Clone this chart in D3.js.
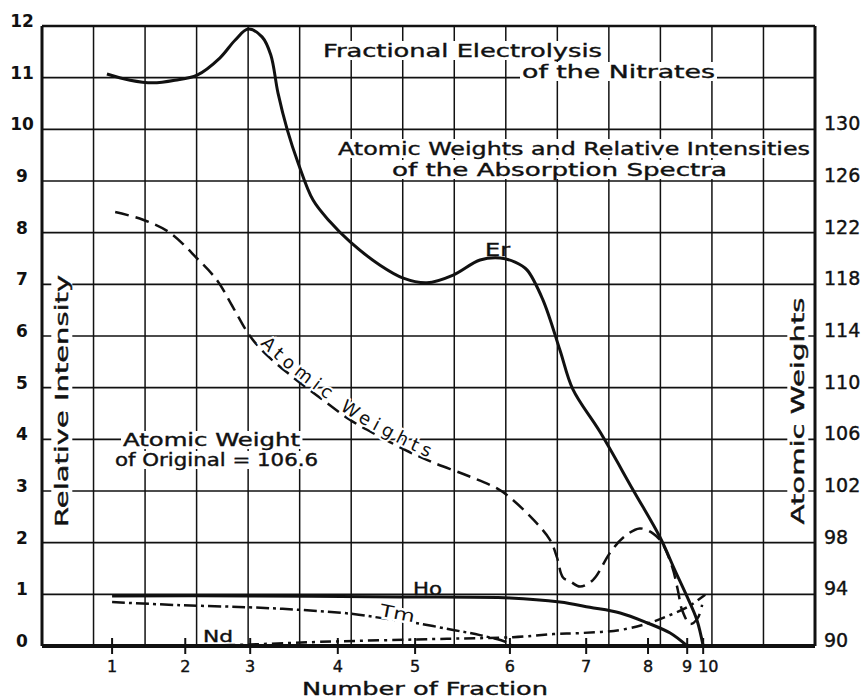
<!DOCTYPE html>
<html><head><meta charset="utf-8">
<script src="https://cdn.jsdelivr.net/npm/d3@7"></script>
<style>body{margin:0;background:#fff}</style>
</head><body>
<svg id="c" width="865" height="700"></svg>
<script>
// ---- data ----
const intensityTicks = [0,1,2,3,4,5,6,7,8,9,10,11,12];
const weightTicks = [90,94,98,102,106,110,114,118,122,126,130];
const gridColumns = [0,1,2,3,4,5,6,7,8,9,10,11,12,13,14,15];
const fractions = [1,2,3,4,5,6,7,8,9,10];
const fractionPos = [1.36,2.78,4.04,5.74,7.24,9.08,10.56,11.76,12.52,12.83];

// Er relative intensity (x in grid units)
const erX = [1.26,1.71,2.15,2.58,3.01,3.45,3.75,4.00,4.27,4.44,4.58,4.76,4.97,5.26,5.59,5.98,6.56,7.01,7.47,7.98,8.50,8.89,9.18,9.41,9.72,10.05,10.30,10.83,11.47,11.99,12.28,12.52,12.71,12.83];
const erY = [11.07,10.95,10.90,10.95,11.05,11.38,11.73,11.94,11.79,11.44,10.70,9.99,9.35,8.63,8.21,7.82,7.37,7.12,7.03,7.18,7.47,7.51,7.43,7.28,6.70,5.73,4.97,4.14,3.02,2.11,1.47,0.95,0.50,0.0];
// Atomic weights (right axis)
const awX = [1.42,1.96,2.48,3.01,3.40,3.71,4.00,4.29,4.81,5.40,5.98,6.56,7.14,7.59,8.25,8.83,9.08,9.53,9.86,9.99,10.11,10.25,10.44,10.69,11.02,11.28,11.60,11.86,12.03,12.23,12.34,12.42,12.58,12.73,12.81];
const awW = [123.6,123.0,122.0,120.0,118.3,116.2,114.2,112.8,111.0,109.2,107.5,106.2,105.0,104.2,103.2,102.2,101.5,99.8,98.2,96.9,95.3,95.0,94.6,95.1,97.2,98.4,99.1,98.7,98.0,96.1,94.3,92.8,91.7,92.2,93.2];
// Ho
const hoX = [1.36,4.04,6.95,9.08,10.05,10.63,11.22,11.74,12.19,12.52];
const hoY = [0.97,0.97,0.95,0.93,0.85,0.75,0.64,0.45,0.25,0.0];
// Tm
const tmX = [1.36,2.68,3.98,5.01,6.04,6.66,7.28,7.98,8.50,9.02,9.12];
const tmY = [0.85,0.79,0.75,0.70,0.62,0.53,0.44,0.31,0.21,0.07,0.0];
// Nd
const ndX = [3.07,4.04,5.40,7.86,9.14,9.92,10.44,11.22,11.80,12.19,12.52,12.87];
const ndY = [0,0.03,0.08,0.14,0.17,0.23,0.25,0.31,0.45,0.60,0.75,0.99];

// ---- scales ----
const FONT = "'DejaVu Sans', sans-serif";
const svg = d3.select('#c');
const x = d3.scaleLinear().domain([0,15]).range([42,815]);
const y = d3.scaleLinear().domain([0,12]).range([646,26]);
const yW = d3.scaleLinear().domain([90,130]).range([y(0), y(10)]);
const ink = '#111';

const gridG = svg.append('g');
const bgG = svg.append('g');
const curveG = svg.append('g');
const textG = svg.append('g');

// grid
gridG.selectAll('line.h').data(intensityTicks).join('line')
  .attr('x1', x(0)).attr('x2', x(15)).attr('y1', d=>y(d)).attr('y2', d=>y(d))
  .attr('stroke', ink).attr('stroke-width', d => d===0 ? 4 : (d===12 ? 2.5 : 1.7));
gridG.selectAll('line.v').data(gridColumns).join('line')
  .attr('x1', d=>x(d)).attr('x2', d=>x(d)).attr('y1', y(12)).attr('y2', y(0))
  .attr('stroke', ink).attr('stroke-width', d => (d===0||d===15) ? 3 : 1.5);

// fraction ticks
curveG.selectAll('line.t').data(fractionPos).join('line')
  .attr('x1', d=>x(d)).attr('x2', d=>x(d)).attr('y1', y(0)-8).attr('y2', y(0)+8)
  .attr('stroke', ink).attr('stroke-width', 2);

// axis labels
textG.selectAll('text.l').data(intensityTicks).join('text')
  .attr('x', 22).attr('y', d=>y(d)+1).attr('text-anchor','middle')
  .attr('font-family', FONT).attr('font-size', 17).attr('font-weight','bold').attr('fill', ink)
  .text(d=>d);
textG.selectAll('text.r').data(weightTicks).join('text')
  .attr('x', 824).attr('y', d=>yW(d)+1)
  .attr('font-family', FONT).attr('font-size', 19).attr('fill', ink)
  .attr('stroke', ink).attr('stroke-width', 0.4)
  .text(d=>d);
textG.selectAll('text.b').data(fractions).join('text')
  .attr('x', (d,i)=> d===10 ? x(fractionPos[i]) - 5 : x(fractionPos[i]))
  .attr('y', 672).attr('text-anchor', d => d===10 ? 'start' : 'middle')
  .attr('font-family', FONT).attr('font-size', 16).attr('fill', ink)
  .attr('stroke', ink).attr('stroke-width', 0.4)
  .text(d=>d);

function label(txt, px, py, size, len, opts={}) {
  const t = textG.append('text').attr('x', px).attr('y', py)
    .attr('font-family', FONT).attr('font-size', size).attr('fill', ink).text(txt);
  if (len) t.attr('textLength', len).attr('lengthAdjust', 'spacingAndGlyphs');
  if (!opts.halo) t.attr('stroke', ink).attr('stroke-width', 0.4);
  if (opts.bg) {
    const b = t.node().getBBox();
    bgG.append('rect').attr('x', b.x-2).attr('y', b.y+1).attr('width', b.width+4).attr('height', b.height-2).attr('fill','#fff');
  }
  return t;
}
label('Number of Fraction', 302, 695, 18, 246);
label('Fractional Electrolysis', 323, 57, 18, 279, {bg:true});
label('of the Nitrates', 522, 78, 18, 193, {bg:true});
label('Atomic Weights and Relative Intensities', 338, 155, 18, 472, {bg:true});
label('of the Absorption Spectra', 392, 176, 18, 335, {bg:true});
label('Atomic Weight', 123, 446, 17, 177, {bg:true});
label('of Original = 106.6', 115, 466, 17, 203, {bg:true});
label('Er', 485, 256, 17, 25);
label('Ho', 413, 595, 17, 29);
label('Nd', 203, 642, 16, 30);
label('Tm', 380, 619, 17, 35, {halo:true}).attr('transform','rotate(11,397,613)')
  .attr('stroke','#fff').attr('stroke-width',5).attr('paint-order','stroke');

// rotated axis titles
function vtitle(txt, cx, cy, len) {
  const g = svg.append('g').attr('transform', `translate(${cx},${cy}) rotate(-90)`);
  const t = g.append('text').attr('text-anchor','middle').attr('dy','0.35em')
    .attr('font-family', FONT).attr('font-size', 18).attr('fill', ink)
    .attr('stroke', ink).attr('stroke-width', 0.4)
    .attr('textLength', len).attr('lengthAdjust','spacingAndGlyphs').text(txt);
  const b = t.node().getBBox();
  g.insert('rect','text').attr('x', b.x-3).attr('y', b.y).attr('width', b.width+6).attr('height', b.height).attr('fill','#fff');
}
vtitle('Relative Intensity', 62, 401, 252);
vtitle('Atomic Weights', 798, 411, 227);

// curves
const lineI = d3.line().x(d=>x(d[0])).y(d=>y(d[1])).curve(d3.curveCatmullRom.alpha(0.5));
const lineW = d3.line().x(d=>x(d[0])).y(d=>yW(d[1])).curve(d3.curveCatmullRom.alpha(0.5));
const zip = (a,b) => a.map((v,i)=>[v,b[i]]);

curveG.append('path').attr('d', lineI(zip(hoX,hoY))).attr('fill','none')
  .attr('stroke', ink).attr('stroke-width', 3);
curveG.append('path').attr('d', lineI(zip(tmX,tmY))).attr('fill','none')
  .attr('stroke', ink).attr('stroke-width', 2.5).attr('stroke-dasharray','13,4,3,4');
curveG.append('path').attr('d', lineI(zip(ndX,ndY))).attr('fill','none')
  .attr('stroke', ink).attr('stroke-width', 2.5).attr('stroke-dasharray','11,5,3,5');
const awPath = curveG.append('path').attr('id','awp').attr('d', lineW(zip(awX,awW))).attr('fill','none')
  .attr('stroke', ink).attr('stroke-width', 2.5).attr('stroke-dasharray','14,7');
curveG.append('path').attr('d', lineI(zip(erX,erY))).attr('fill','none')
  .attr('stroke', ink).attr('stroke-width', 3);

// text along the atomic weight curve
const node = awPath.node();
const total = node.getTotalLength();
let lo = 0, hi = total;
for (let k=0;k<40;k++){ const m=(lo+hi)/2; if (node.getPointAtLength(m).x < 258) lo=m; else hi=m; }
textG.append('text').attr('font-family', FONT).attr('font-size', 18).attr('fill', ink)
  .attr('letter-spacing', 5).attr('dy', -3)
  .attr('stroke','#fff').attr('stroke-width',4).attr('paint-order','stroke')
  .append('textPath').attr('href','#awp').attr('startOffset', lo).text('Atomic Weights');
</script>
</body></html>
